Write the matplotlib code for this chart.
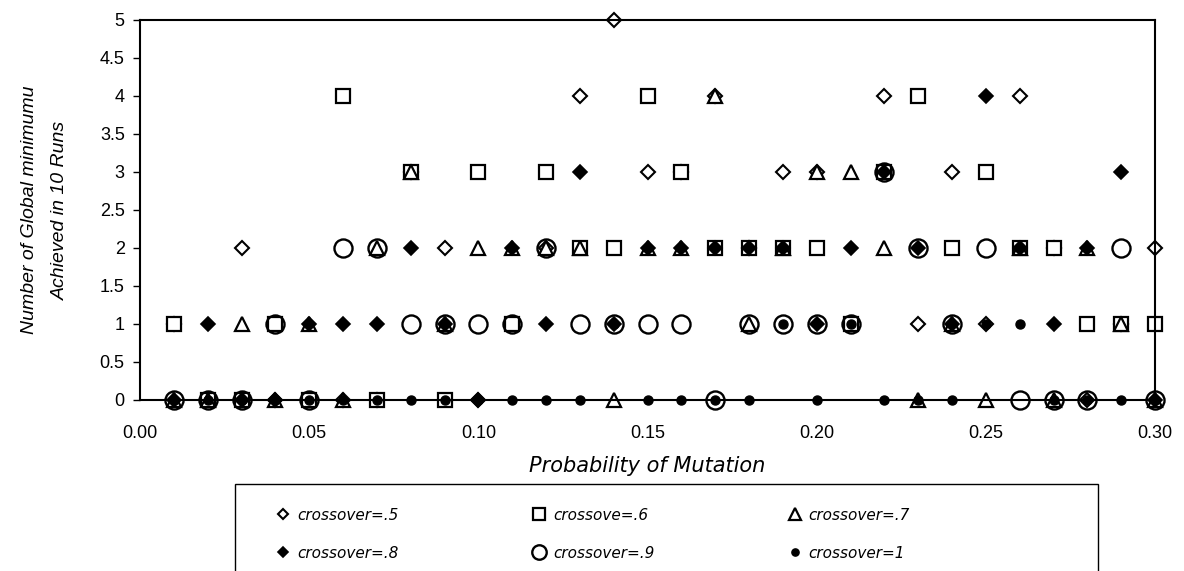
import matplotlib
matplotlib.use("Agg")
import matplotlib.pyplot as plt
from matplotlib.patches import Rectangle

plt.rcParams['font.family'] = ['Liberation Sans', 'DejaVu Sans']

# probability of mutation (0.01 .. 0.30)
mutation = [0.01, 0.02, 0.03, 0.04, 0.05, 0.06, 0.07, 0.08, 0.09, 0.10,
            0.11, 0.12, 0.13, 0.14, 0.15, 0.16, 0.17, 0.18, 0.19, 0.20,
            0.21, 0.22, 0.23, 0.24, 0.25, 0.26, 0.27, 0.28, 0.29, 0.30]

cross_05 = [1, 0, 2, 0, 0, 0, 0, 3, 2, 0, 1, 2, 4, 5, 3, 3, 4, 2, 3, 3,
            1, 4, 1, 3, 1, 4, 2, 0, 1, 2]
cross_06 = [1, 0, 0, 1, 0, 4, 0, 3, 0, 3, 1, 3, 2, 2, 4, 3, 2, 2, 2, 2,
            1, 3, 4, 2, 3, 2, 2, 1, 1, 1]
cross_07 = [0, 0, 1, 0, 1, 0, 2, 3, 1, 2, 2, 2, 2, 0, 2, 2, 4, 1, 2, 3,
            3, 2, 0, 1, 0, 2, 0, 2, 1, 0]
cross_08 = [0, 1, 0, 0, 1, 1, 1, 2, 1, 0, 2, 1, 3, 1, 2, 2, 2, 2, 2, 1,
            2, 3, 2, 1, 4, 2, 1, 2, 3, 0]
cross_09 = [0, 0, 0, 1, 0, 2, 2, 1, 1, 1, 1, 2, 1, 1, 1, 1, 0, 1, 1, 1,
            1, 3, 2, 1, 2, 0, 0, 0, 2, 0]
cross_10 = [0, 0, 0, 0, 0, 0, 0, 0, 0, 0, 0, 0, 0, 1, 0, 0, 0, 0, 1, 0,
            1, 0, 0, 0, 1, 1, 0, 0, 0, 0]

labels = ['crossover=.5', 'crossove=.6', 'crossover=.7',
          'crossover=.8', 'crossover=.9', 'crossover=1']

fig = plt.figure(figsize=(11.84, 5.71), dpi=100, facecolor='white')
ax = fig.add_axes([140 / 1184, 1 - 400 / 571, 1015 / 1184, 380 / 571])

l5, = ax.plot(mutation, cross_05, linestyle='none', marker='D', markersize=7,
              markerfacecolor='white', markeredgecolor='black', markeredgewidth=1.5,
              clip_on=False, label=labels[0])
l6, = ax.plot(mutation, cross_06, linestyle='none', marker='s', markersize=10,
              markerfacecolor='white', markeredgecolor='black', markeredgewidth=1.6,
              clip_on=False, label=labels[1])
l7, = ax.plot(mutation, cross_07, linestyle='none', marker='^', markersize=10,
              markerfacecolor='white', markeredgecolor='black', markeredgewidth=1.6,
              clip_on=False, label=labels[2])
l8, = ax.plot(mutation, cross_08, linestyle='none', marker='D', markersize=7,
              markerfacecolor='black', markeredgecolor='black', markeredgewidth=1.2,
              clip_on=False, label=labels[3])
l9, = ax.plot(mutation, cross_09, linestyle='none', marker='o', markersize=13,
              markerfacecolor='none', markeredgecolor='black', markeredgewidth=1.7,
              clip_on=False, label=labels[4])
l10, = ax.plot(mutation, cross_10, linestyle='none', marker='o', markersize=6.5,
               markerfacecolor='black', markeredgecolor='black', markeredgewidth=1,
               clip_on=False, label=labels[5])

ax.set_xlim(0, 0.30)
ax.set_ylim(0, 5)
ax.set_xticks([0.00, 0.05, 0.10, 0.15, 0.20, 0.25, 0.30])
ax.set_xticklabels(['0.00', '0.05', '0.10', '0.15', '0.20', '0.25', '0.30'])
ax.set_yticks([0, 0.5, 1, 1.5, 2, 2.5, 3, 3.5, 4, 4.5, 5])
ax.set_yticklabels(['0', '0.5', '1', '1.5', '2', '2.5', '3', '3.5', '4', '4.5', '5'])
ax.tick_params(axis='both', labelsize=13, direction='out', width=1, length=5, colors='black')
ax.tick_params(axis='x', length=0, pad=18)
ax.tick_params(axis='y', pad=6)
for s in ax.spines.values():
    s.set_linewidth(1.5)
    s.set_color('black')

ax.set_xlabel('Probability of Mutation', fontsize=15, style='italic', labelpad=10,
              family=['DejaVu Sans'])
ax.set_ylabel('Number of Global minimumu\nAchieved in 10 Runs', fontsize=14,
              style='italic', labelpad=22, linespacing=2.1)

# legend box (runs off the bottom of the picture)
fig.patches.append(Rectangle((235 / 1184, -0.05), 863 / 1184, 1 - 484 / 571 + 0.05,
                             transform=fig.transFigure, facecolor='white',
                             edgecolor='black', linewidth=1))
# column-major order so rows read .5 .6 .7 / .8 .9 1
order = [l5, l8, l6, l9, l7, l10]
leg = fig.legend(order, [h.get_label() for h in order],
                 loc='upper left', bbox_to_anchor=(262 / 1184, 1 - 494 / 571),
                 ncol=3, frameon=False, handlelength=1.0,
                 handletextpad=0.4, columnspacing=8.7, labelspacing=1.5,
                 prop={'style': 'italic', 'family': ['DejaVu Sans'], 'size': 11})
for h in leg.legend_handles:
    h.set_markersize(h.get_markersize() * 0.8)

fig.savefig('out.png', dpi=100)
